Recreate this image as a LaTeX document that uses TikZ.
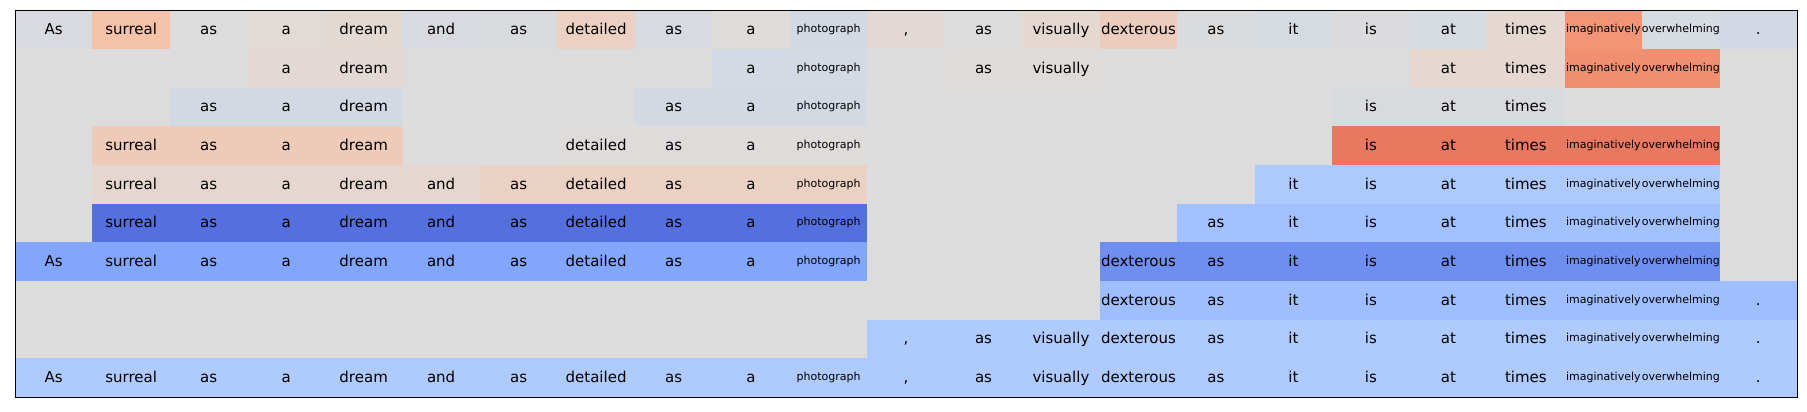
\documentclass[tikz,border=0pt]{standalone}
\usepackage{fontspec}
\setmainfont{DejaVu Sans}
% colours
\definecolor{bg}{HTML}{DDDCDC}
\definecolor{aA}{HTML}{D8DADF}
\definecolor{aB}{HTML}{F3C2A9}
\definecolor{aC}{HTML}{DCDCDC}
\definecolor{aD}{HTML}{E2DAD5}
\definecolor{aE}{HTML}{E3D9D3}
\definecolor{aF}{HTML}{D8DADF}
\definecolor{aG}{HTML}{D9DADD}
\definecolor{aH}{HTML}{ECD0C1}
\definecolor{aI}{HTML}{D7DBE1}
\definecolor{aJ}{HTML}{DFDBD8}
\definecolor{aK}{HTML}{D3D9E3}
\definecolor{aL}{HTML}{E2D9D5}
\definecolor{aM}{HTML}{DCDCDC}
\definecolor{aN}{HTML}{E5D8D0}
\definecolor{aO}{HTML}{ECCDBD}
\definecolor{aP}{HTML}{DADBDD}
\definecolor{aQ}{HTML}{D6DBE2}
\definecolor{aR}{HTML}{DBDBDD}
\definecolor{aS}{HTML}{D7DBE2}
\definecolor{aT}{HTML}{E4D8D0}
\definecolor{aU}{HTML}{F29476}
\definecolor{aV}{HTML}{D7DBE2}
\definecolor{aW}{HTML}{D2D9E4}
\definecolor{bA}{HTML}{E2D9D4}
\definecolor{bB}{HTML}{D4DAE3}
\definecolor{bC}{HTML}{DFDBD9}
\definecolor{bD}{HTML}{E4D8D1}
\definecolor{bE}{HTML}{F18F71}
\definecolor{cA}{HTML}{D3D9E3}
\definecolor{cB}{HTML}{D9DADD}
\definecolor{dA}{HTML}{EECBB8}
\definecolor{dB}{HTML}{DEDBDA}
\definecolor{dC}{HTML}{E8785F}
\definecolor{eA}{HTML}{E5D7CF}
\definecolor{eB}{HTML}{EBD1C3}
\definecolor{eC}{HTML}{AEC9FB}
\definecolor{fA}{HTML}{5470DE}
\definecolor{fB}{HTML}{A2C1FE}
\definecolor{gA}{HTML}{82A6FB}
\definecolor{gB}{HTML}{6E8FF0}
\definecolor{hA}{HTML}{9EBEFE}
\definecolor{iA}{HTML}{AFCAFC}
\newcommand{\wordof}[1]{\ifcase\numexpr#1\relax As\or surreal\or as\or a\or dream\or and\or as\or detailed\or as\or a\or photograph\or ,\or as\or visually\or dexterous\or as\or it\or is\or at\or times\or imaginatively\or overwhelming\or .\fi}
\tikzset{
  cell/.style={rectangle, inner sep=0pt, minimum width=77.7pt, minimum height=38.9pt, draw=none, text=black},
  word/.style={font=\fontsize{15}{17}\selectfont, text height=9.6pt, text depth=0pt},
  smallword/.style={font=\fontsize{11}{13}\selectfont, text height=6pt, text depth=0pt},
  frame/.style={draw=black, line width=1pt}
}
\newcommand{\cellrun}[4]{%
  \foreach \cc in {#2,...,#3}{%
    \pgfmathtruncatemacro{\issmall}{((\cc==10)||(\cc==20)||(\cc==21))?1:0}%
    \ifnum\issmall=1
      \node[cell, smallword, fill=#4] (c-#1-\cc) at ({15+77.48*(\cc+0.5)}, {-(10.3+38.67*(#1+0.5))}) {\wordof{\cc}};
    \else
      \node[cell, word, fill=#4] (c-#1-\cc) at ({15+77.48*(\cc+0.5)}, {-(10.3+38.67*(#1+0.5))}) {\wordof{\cc}};
    \fi
  }}
\begin{document}
\begin{tikzpicture}[x=1pt, y=1pt]
\useasboundingbox (0,0) rectangle (1807,-412);
\fill[bg] (15,-10.3) rectangle (1797,-397);
% row 0
\cellrun{0}{0}{0}{aA}\cellrun{0}{1}{1}{aB}\cellrun{0}{2}{2}{aC}\cellrun{0}{3}{3}{aD}
\cellrun{0}{4}{4}{aE}\cellrun{0}{5}{5}{aF}\cellrun{0}{6}{6}{aG}\cellrun{0}{7}{7}{aH}
\cellrun{0}{8}{8}{aI}\cellrun{0}{9}{9}{aJ}\cellrun{0}{10}{10}{aK}\cellrun{0}{11}{11}{aL}
\cellrun{0}{12}{12}{aM}\cellrun{0}{13}{13}{aN}\cellrun{0}{14}{14}{aO}\cellrun{0}{15}{15}{aP}
\cellrun{0}{16}{16}{aQ}\cellrun{0}{17}{17}{aR}\cellrun{0}{18}{18}{aS}\cellrun{0}{19}{19}{aT}
\cellrun{0}{20}{20}{aU}\cellrun{0}{21}{21}{aV}\cellrun{0}{22}{22}{aW}
% row 1
\cellrun{1}{3}{4}{bA}\cellrun{1}{9}{10}{bB}\cellrun{1}{12}{13}{bC}\cellrun{1}{18}{19}{bD}\cellrun{1}{20}{21}{bE}
% row 2
\cellrun{2}{2}{4}{cA}\cellrun{2}{8}{10}{cA}\cellrun{2}{17}{19}{cB}
% row 3
\cellrun{3}{1}{4}{dA}\cellrun{3}{7}{10}{dB}\cellrun{3}{17}{21}{dC}
% row 4
\cellrun{4}{1}{5}{eA}\cellrun{4}{6}{10}{eB}\cellrun{4}{16}{21}{eC}
% row 5
\cellrun{5}{1}{10}{fA}\cellrun{5}{15}{21}{fB}
% row 6
\cellrun{6}{0}{10}{gA}\cellrun{6}{14}{21}{gB}
% row 7
\cellrun{7}{14}{22}{hA}
% row 8
\cellrun{8}{11}{22}{iA}
% row 9
\cellrun{9}{0}{22}{iA}
\draw[frame] (15,-10.3) rectangle (1797,-397);
\end{tikzpicture}
\end{document}
